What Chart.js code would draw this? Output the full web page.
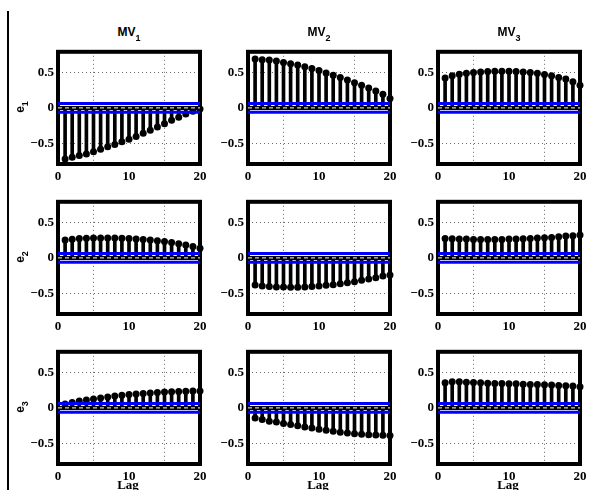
<!DOCTYPE html>
<html><head><meta charset="utf-8">
<script src="https://cdn.jsdelivr.net/npm/chart.js@4/dist/chart.umd.min.js"></script>
<style>
html,body{margin:0;padding:0;background:#fff;}
#root{position:relative;width:592px;height:490px;overflow:hidden;background:#fff;}
canvas{position:absolute;}
.title{position:absolute;width:60px;text-align:center;font:bold 12px "Liberation Sans",Arial,sans-serif;line-height:12px;color:#000;white-space:nowrap;}
.title span{font-size:9px;position:relative;top:5px;}
.rowlab{position:absolute;width:30px;height:16px;line-height:16px;text-align:center;font:bold 12px "Liberation Sans",Arial,sans-serif;color:#000;transform:rotate(-90deg);white-space:nowrap;}
.rowlab span{font-size:9px;position:relative;top:4px;}
.xlab{position:absolute;width:60px;text-align:center;font:bold 13px "Liberation Serif","Times New Roman",serif;line-height:15px;color:#000;}
#vline{position:absolute;left:7px;top:11px;width:2px;height:479px;background:#000;}
</style></head><body><div id="root"><div id="vline"></div></div>
<script>
// ---- data ----
const lags = [1,2,3,4,5,6,7,8,9,10,11,12,13,14,15,16,17,18,19,20];
const e1_MV1 = [-0.715,-0.69,-0.667,-0.644,-0.612,-0.58,-0.543,-0.511,-0.475,-0.438,-0.401,-0.356,-0.314,-0.268,-0.222,-0.172,-0.131,-0.085,-0.048,-0.016];
const e1_MV2 = [0.683,0.674,0.669,0.655,0.637,0.619,0.600,0.577,0.550,0.522,0.490,0.458,0.426,0.389,0.353,0.316,0.279,0.238,0.192,0.132];
const e1_MV3 = [0.417,0.449,0.472,0.486,0.495,0.504,0.509,0.513,0.513,0.513,0.509,0.504,0.495,0.486,0.467,0.449,0.426,0.403,0.366,0.316];
const e2_MV1 = [0.25,0.262,0.27,0.275,0.278,0.28,0.28,0.279,0.276,0.272,0.266,0.259,0.25,0.24,0.228,0.214,0.198,0.18,0.16,0.135];
const e2_MV2 = [-0.378,-0.392,-0.401,-0.406,-0.406,-0.41,-0.41,-0.406,-0.401,-0.392,-0.383,-0.374,-0.36,-0.346,-0.332,-0.314,-0.296,-0.277,-0.254,-0.241];
const e2_MV3 = [0.273,0.268,0.264,0.264,0.259,0.259,0.259,0.259,0.259,0.264,0.264,0.268,0.273,0.277,0.282,0.287,0.296,0.305,0.309,0.319];
const e3_MV1 = [0.055,0.075,0.095,0.11,0.125,0.14,0.153,0.165,0.176,0.186,0.195,0.203,0.21,0.216,0.221,0.226,0.23,0.233,0.235,0.237];
const e3_MV2 = [-0.14,-0.163,-0.186,-0.199,-0.218,-0.232,-0.25,-0.268,-0.282,-0.3,-0.314,-0.328,-0.342,-0.351,-0.36,-0.369,-0.374,-0.378,-0.383,-0.387];
const e3_MV3 = [0.351,0.365,0.365,0.36,0.355,0.351,0.346,0.342,0.342,0.337,0.337,0.332,0.328,0.328,0.323,0.319,0.314,0.309,0.305,0.296];
const confBounds = [0.06, -0.06];
const baseline = 0;
const xTicks = [0, 10, 20];
const yTicks = [-0.5, 0, 0.5];
const yTickLabels = ['\u22120.5', '0', '0.5'];
const xRange = [0, 20];
const yRange = [-0.785, 0.785];
const colNames = ['MV', 'MV', 'MV'];
const colSubs = ['1', '2', '3'];
const rowNames = ['e', 'e', 'e'];
const rowSubs = ['1', '2', '3'];
const xAxisLabel = 'Lag';
const series = [[e1_MV1, e1_MV2, e1_MV3], [e2_MV1, e2_MV2, e2_MV3], [e3_MV1, e3_MV2, e3_MV3]];

// ---- layout ----
const colLeft = [58, 248, 438], rowTop = [50, 200, 350], plotW = 142, plotH = 114;
const padL = 50, padT = 10, padR = 12, padB = 22;
const root = document.getElementById('root');

const framePlugin = {
  id: 'frame',
  beforeDatasetsDraw(chart) {
    const { ctx, chartArea: a } = chart;
    ctx.save();
    ctx.lineWidth = 4; ctx.strokeStyle = '#000';
    ctx.strokeRect(a.left, a.top, a.right - a.left, a.bottom - a.top);
    ctx.restore();
  }
};

const tickFont = { family: '"Liberation Serif","Times New Roman",serif', size: 13, weight: 'bold' };

function hline(y) { return [{ x: xRange[0], y: y }, { x: xRange[1], y: y }]; }

for (let r = 0; r < 3; r++) {
  for (let c = 0; c < 3; c++) {
    const cv = document.createElement('canvas');
    const W = plotW + padL + padR, H = plotH + padT + padB;
    cv.width = W; cv.height = H;
    cv.style.left = (colLeft[c] - padL) + 'px';
    cv.style.top = (rowTop[r] - padT) + 'px';
    cv.style.width = W + 'px'; cv.style.height = H + 'px';
    root.appendChild(cv);
    const vals = series[r][c];
    const pts = lags.map((l, i) => ({ x: l, y: vals[i] }));
    new Chart(cv, {
      type: 'scatter',
      data: {
        datasets: [
          { type: 'line', data: hline(confBounds[0]), borderColor: '#0000ff', borderWidth: 3, pointRadius: 0, order: 0, clip: false },
          { type: 'line', data: hline(confBounds[1]), borderColor: '#0000ff', borderWidth: 3, pointRadius: 0, order: 0, clip: false },
          { type: 'line', data: hline(baseline), borderColor: '#ffffff', borderWidth: 1, borderDash: [4, 3], pointRadius: 0, order: 1 },
          { type: 'line', data: hline(baseline), borderColor: '#000000', borderWidth: 4, pointRadius: 0, order: 2 },
          { type: 'line', data: pts, showLine: false, pointRadius: 3.5, pointBackgroundColor: '#000', pointBorderColor: '#000', pointBorderWidth: 0, order: 3, clip: false },
          { type: 'bar', data: pts, backgroundColor: '#000', barThickness: 3, order: 4 }
        ]
      },
      options: {
        responsive: false, maintainAspectRatio: false, animation: false, events: [],
        layout: { padding: { left: 0, top: padT, right: padR, bottom: 0 } },
        plugins: { legend: { display: false }, tooltip: { enabled: false }, title: { display: false } },
        scales: {
          x: {
            type: 'linear', min: xRange[0], max: xRange[1], offset: false,
            afterBuildTicks: s => { s.ticks = xTicks.map(v => ({ value: v })); },
            afterFit: s => { s.height = padB; },
            grid: { color: '#666', lineWidth: 1, drawTicks: false },
            border: { display: false, dash: [1, 3] },
            ticks: { font: tickFont, color: '#000', padding: 5, maxRotation: 0, autoSkip: false }
          },
          y: {
            type: 'linear', min: yRange[0], max: yRange[1],
            afterBuildTicks: s => { s.ticks = yTicks.map(v => ({ value: v })); },
            afterFit: s => { s.width = padL; },
            grid: { color: '#666', lineWidth: 1, drawTicks: false },
            border: { display: false, dash: [1, 3] },
            ticks: { font: tickFont, color: '#000', padding: 4, autoSkip: false,
              callback: v => { const i = yTicks.indexOf(v); return i >= 0 ? yTickLabels[i] : ''; } }
          }
        }
      },
      plugins: [framePlugin]
    });
  }
}

// column titles
for (let c = 0; c < 3; c++) {
  const cx = colLeft[c] + plotW / 2;
  const d = document.createElement('div');
  d.className = 'title';
  d.style.left = (cx - 30) + 'px'; d.style.top = '26px';
  d.innerHTML = colNames[c] + '<span>' + colSubs[c] + '</span>';
  root.appendChild(d);
  const l = document.createElement('div');
  l.className = 'xlab';
  l.style.left = (cx - 31) + 'px'; l.style.top = '477px';
  l.textContent = xAxisLabel;
  root.appendChild(l);
}
// row labels
for (let r = 0; r < 3; r++) {
  const cy = rowTop[r] + plotH / 2;
  const d = document.createElement('div');
  d.className = 'rowlab';
  d.style.left = (21 - 15) + 'px'; d.style.top = (cy - 8) + 'px';
  d.innerHTML = rowNames[r] + '<span>' + rowSubs[r] + '</span>';
  root.appendChild(d);
}
</script></body></html>
